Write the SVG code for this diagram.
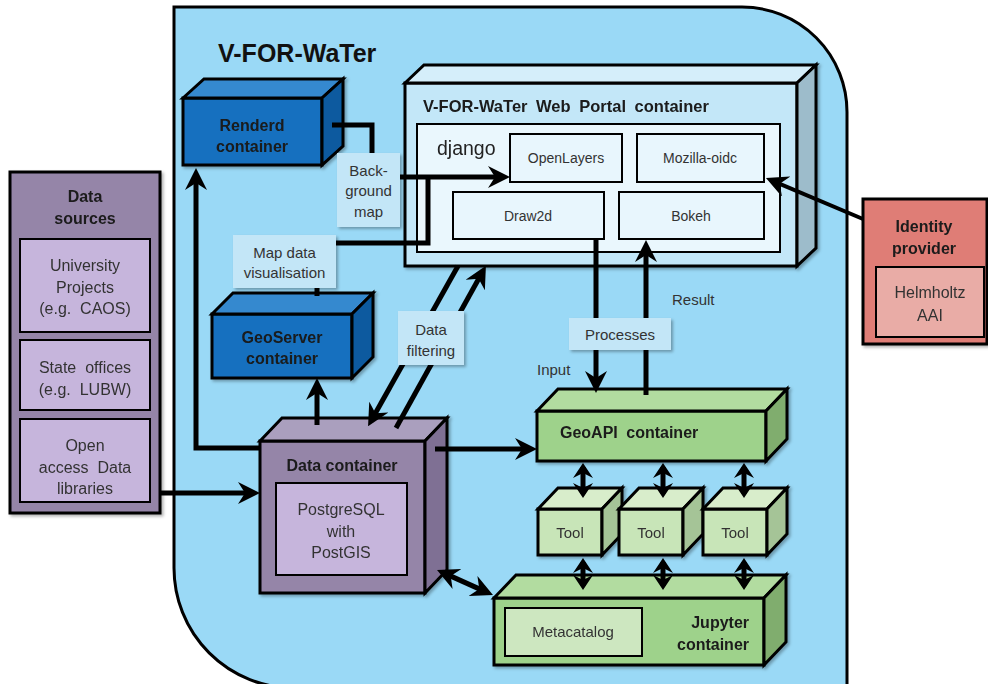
<svg xmlns="http://www.w3.org/2000/svg" width="988" height="684" viewBox="0 0 988 684">
<defs>
<marker id="ah" viewBox="0 0 22 22" refX="16" refY="11" markerWidth="22" markerHeight="22" markerUnits="userSpaceOnUse" orient="auto-start-reverse">
<path d="M0,0 L22,11 L0,22 L7,11 Z" fill="#000"/>
</marker>
<marker id="ah2" viewBox="0 0 15 20" refX="11" refY="10" markerWidth="15" markerHeight="20" markerUnits="userSpaceOnUse" orient="auto-start-reverse">
<path d="M0,0 L15,10 L0,20 L5,10 Z" fill="#000"/>
</marker>
<filter id="sh" x="-10%" y="-10%" width="130%" height="130%">
<feDropShadow dx="2" dy="2" stdDeviation="1.5" flood-color="#000" flood-opacity="0.3"/>
</filter>
</defs>
<style>
.box{stroke:#000;stroke-width:3;stroke-linejoin:miter}
.in{stroke:#000;stroke-width:2}
.t{font-family:"Liberation Sans",Arial,sans-serif;fill:#333;text-anchor:middle}
.b{font-weight:bold;fill:#1a1a1a;font-size:16px}
.r{font-size:16px}
.s{font-size:15px}
.x{font-size:14px}
.lbl{fill:#c3e6f7;filter:url(#sh)}
.cn{fill:none;stroke:#000;stroke-width:5}
.cn4{fill:none;stroke:#000;stroke-width:4}
.blueF{fill:#126fbf}.blueT{fill:#3589cf}.blueS{fill:#095a9f}
.purF{fill:#9585a8}.purT{fill:#aa9fbe}.purS{fill:#7f7094}.purI{fill:#c6b5dc}
.grnF{fill:#9ed28b}.grnT{fill:#b2dca0}.grnS{fill:#80ad6e}
.tlF{fill:#c8e5b8}.tlT{fill:#d8edcb}.tlS{fill:#a5c497}
.wpF{fill:#c3e7f8}.wpT{fill:#d5eefa}.wpS{fill:#9dbccb}.wpI{fill:#eaf7fd}
</style>

<g id="main-container">
<path d="M174,7 H742 A105,105 0 0 1 847,112 V688 H294 A120,120 0 0 1 174,568 Z" fill="#9ad9f6" stroke="#000" stroke-width="3"/>
<text class="t" x="218" y="62" style="font-size:25px;font-weight:bold;fill:#111;text-anchor:start">V-FOR-WaTer</text>
</g>

<g id="data-sources" filter="url(#sh)">
<rect x="10" y="172" width="150" height="341" class="purF box"/>
<text class="t b" x="85" y="202">Data</text>
<text class="t b" x="85" y="224">sources</text>
<rect x="20" y="239" width="130" height="93" class="purI in"/>
<text class="t r" x="85" y="271">University</text>
<text class="t r" x="85" y="293">Projects</text>
<text class="t r" x="85" y="314" xml:space="preserve">(e.g.  CAOS)</text>
<rect x="20" y="340" width="130" height="70" class="purI in"/>
<text class="t r" x="85" y="373" xml:space="preserve">State  offices</text>
<text class="t r" x="85" y="395" xml:space="preserve">(e.g.  LUBW)</text>
<rect x="20" y="419" width="130" height="83" class="purI in"/>
<text class="t r" x="85" y="451">Open</text>
<text class="t r" x="85" y="473" xml:space="preserve">access  Data</text>
<text class="t r" x="85" y="494">libraries</text>
</g>

<g id="identity-provider" filter="url(#sh)">
<rect x="863" y="199" width="124" height="145" fill="#df7d76" class="box"/>
<text class="t b" x="924" y="232">Identity</text>
<text class="t b" x="924" y="254">provider</text>
<rect x="876" y="267" width="108" height="70" fill="#e9aca6" class="in"/>
<text class="t r" x="930" y="298">Helmholtz</text>
<text class="t r" x="930" y="321">AAI</text>
</g>

<g id="renderd" filter="url(#sh)">
<rect x="183" y="98" width="139" height="67" class="blueF box"/>
<path d="M183,98 L204,79 L343,79 L322,98 Z" class="blueT box"/>
<path d="M322,98 L343,79 L343,146 L322,165 Z" class="blueS box"/>
<text class="t b" x="252" y="131">Renderd</text>
<text class="t b" x="252" y="152">container</text>
</g>

<g id="geoserver" filter="url(#sh)">
<rect x="212" y="314" width="140" height="64" class="blueF box"/>
<path d="M212,314 L233,293 L373,293 L352,314 Z" class="blueT box"/>
<path d="M352,314 L373,293 L373,357 L352,378 Z" class="blueS box"/>
<text class="t b" x="282" y="343">GeoServer</text>
<text class="t b" x="282" y="364">container</text>
</g>

<g id="web-portal" filter="url(#sh)">
<rect x="405" y="83" width="392" height="183" class="wpF box"/>
<path d="M405,83 L424,65 L816,65 L797,83 Z" class="wpT box"/>
<path d="M797,83 L816,65 L816,248 L797,266 Z" class="wpS box"/>
<text class="t b" x="423" y="112" style="text-anchor:start;font-size:16.5px;word-spacing:4px">V-FOR-WaTer Web Portal container</text>
<rect x="417" y="124" width="363" height="128" class="wpI in"/>
<text class="t" x="437" y="155" style="text-anchor:start;font-size:19.5px;fill:#222">django</text>
</g>

<g id="openlayers"><rect x="510" y="134" width="112" height="48" fill="#e8f6fd" class="in"/><text class="t x" x="566" y="163">OpenLayers</text></g>
<g id="mozilla-oidc"><rect x="637" y="134" width="127" height="48" fill="#e8f6fd" class="in"/><text class="t x" x="700" y="163">Mozilla-oidc</text></g>
<g id="draw2d"><rect x="453" y="192" width="151" height="47" fill="#e8f6fd" class="in"/><text class="t x" x="528" y="221">Draw2d</text></g>
<g id="bokeh"><rect x="619" y="192" width="145" height="47" fill="#e8f6fd" class="in"/><text class="t x" x="691" y="221">Bokeh</text></g>

<g id="data-container" filter="url(#sh)">
<rect x="260" y="441" width="165" height="152" class="purF box"/>
<path d="M260,441 L282,418 L447,418 L425,441 Z" class="purT box"/>
<path d="M425,441 L447,418 L447,570 L425,593 Z" class="purS box"/>
<text class="t b" x="342" y="471">Data container</text>
<rect x="276" y="483" width="131" height="92" class="purI in"/>
<text class="t r" x="341" y="515">PostgreSQL</text>
<text class="t r" x="341" y="537">with</text>
<text class="t r" x="341" y="558">PostGIS</text>
</g>

<g id="geoapi" filter="url(#sh)">
<rect x="537" y="411" width="229" height="50" class="grnF box"/>
<path d="M537,411 L558,389 L787,389 L766,411 Z" class="grnT box"/>
<path d="M766,411 L787,389 L787,439 L766,461 Z" class="grnS box"/>
<text class="t b" x="560" y="438" style="text-anchor:start;word-spacing:4px">GeoAPI container</text>
</g>

<g id="tool1" filter="url(#sh)">
<rect x="538" y="509" width="64" height="46" class="tlF box"/>
<path d="M538,509 L558,488 L622,488 L602,509 Z" class="tlT box"/>
<path d="M602,509 L622,488 L622,534 L602,555 Z" class="tlS box"/>
<text class="t s" x="570" y="538">Tool</text>
</g>
<g id="tool2" filter="url(#sh)">
<rect x="619" y="509" width="64" height="46" class="tlF box"/>
<path d="M619,509 L639,488 L703,488 L683,509 Z" class="tlT box"/>
<path d="M683,509 L703,488 L703,534 L683,555 Z" class="tlS box"/>
<text class="t s" x="651" y="538">Tool</text>
</g>
<g id="tool3" filter="url(#sh)">
<rect x="703" y="509" width="64" height="46" class="tlF box"/>
<path d="M703,509 L723,488 L787,488 L767,509 Z" class="tlT box"/>
<path d="M767,509 L787,488 L787,534 L767,555 Z" class="tlS box"/>
<text class="t s" x="735" y="538">Tool</text>
</g>

<g id="jupyter" filter="url(#sh)">
<rect x="494" y="598" width="270" height="67" class="grnF box"/>
<path d="M494,598 L516,575 L786,575 L764,598 Z" class="grnT box"/>
<path d="M764,598 L786,575 L786,642 L764,665 Z" class="grnS box"/>
<rect x="505" y="608" width="137" height="48" fill="#cde7c0" class="in"/>
<text class="t s" x="573" y="637">Metacatalog</text>
<text class="t b" x="749" y="628" style="text-anchor:end">Jupyter</text>
<text class="t b" x="749" y="650" style="text-anchor:end">container</text>
</g>

<g id="connectors">
<path class="cn" d="M332,125 H372 V153"/>
<path class="cn" d="M400,177 H504" marker-end="url(#ah)"/>
<path class="cn" d="M317,296 V287"/>
<path class="cn" d="M336,243 H428 V177"/>
<path class="cn" d="M317,425 V384" marker-end="url(#ah)"/>
<path class="cn" d="M458,266 L371,421" marker-end="url(#ah)"/>
<path class="cn" d="M396,428 L483,271" marker-end="url(#ah)"/>
<path class="cn" d="M260,448 H196 V174" marker-end="url(#ah)"/>
<path class="cn" d="M160,493 H254" marker-end="url(#ah)"/>
<path class="cn" d="M435,449 H531" marker-end="url(#ah)"/>
<path class="cn" d="M442.5,572.4 L487.5,592.6" marker-start="url(#ah)" marker-end="url(#ah)"/>
<path class="cn" d="M596,239 V387" marker-end="url(#ah)"/>
<path class="cn" d="M646,395 V246" marker-end="url(#ah)"/>
<path class="cn4" d="M863,219 L771.5,180.3" marker-end="url(#ah)"/>
<path class="cn" d="M583,467 V494" marker-start="url(#ah2)" marker-end="url(#ah2)"/>
<path class="cn" d="M663,467 V494" marker-start="url(#ah2)" marker-end="url(#ah2)"/>
<path class="cn" d="M744,467 V494" marker-start="url(#ah2)" marker-end="url(#ah2)"/>
<path class="cn" d="M583,562 V586" marker-start="url(#ah2)" marker-end="url(#ah2)"/>
<path class="cn" d="M663,562 V586" marker-start="url(#ah2)" marker-end="url(#ah2)"/>
<path class="cn" d="M744,562 V586" marker-start="url(#ah2)" marker-end="url(#ah2)"/>
</g>

<g id="edge-labels">
<rect x="337" y="153" width="63" height="74" class="lbl"/>
<text class="t s" x="368.5" y="176">Back-</text>
<text class="t s" x="368.5" y="196">ground</text>
<text class="t s" x="368.5" y="217">map</text>
<rect x="233" y="235" width="103" height="53" class="lbl"/>
<text class="t s" x="284.5" y="258">Map data</text>
<text class="t s" x="284.5" y="278">visualisation</text>
<rect x="398" y="311" width="66" height="54" class="lbl"/>
<text class="t s" x="431" y="335">Data</text>
<text class="t s" x="431" y="356">filtering</text>
<rect x="569" y="318" width="102" height="32" class="lbl"/>
<text class="t s" x="620" y="340">Processes</text>
<text class="t s" x="672" y="305" style="text-anchor:start">Result</text>
<text class="t s" x="537" y="375" style="text-anchor:start">Input</text>
</g>
</svg>
